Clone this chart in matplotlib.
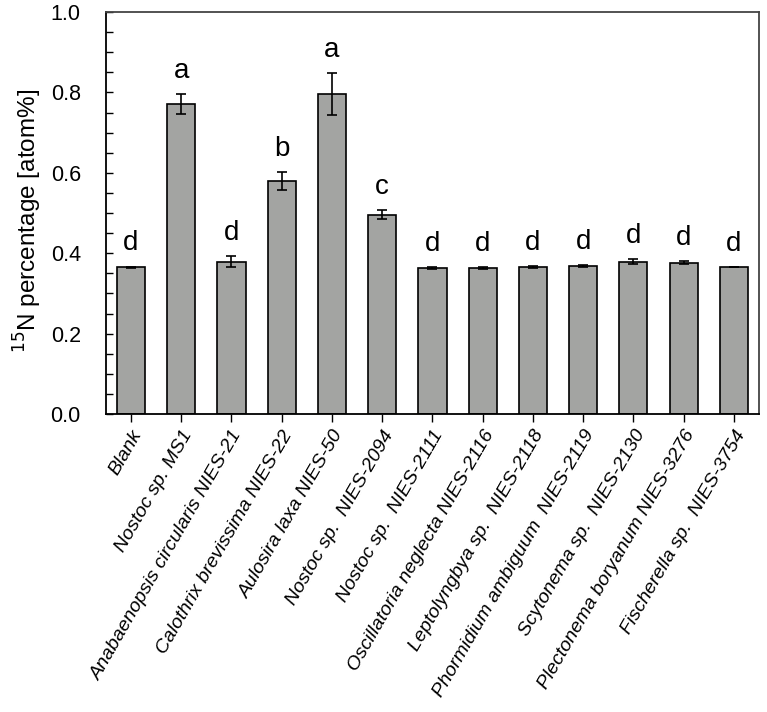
import numpy as np
import matplotlib.pyplot as plt
from matplotlib.ticker import MultipleLocator

plt.rcParams['font.family'] = ['Liberation Sans', 'DejaVu Sans']

strains = ["Blank", "Nostoc sp. MS1", "Anabaenopsis circularis NIES-21",
           "Calothrix brevissima NIES-22", "Aulosira laxa NIES-50",
           "Nostoc sp.  NIES-2094", "Nostoc sp.  NIES-2111",
           "Oscillatoria neglecta NIES-2116", "Leptolyngbya sp.  NIES-2118",
           "Phormidium ambiguum  NIES-2119", "Scytonema sp.  NIES-2130",
           "Plectonema boryanum NIES-3276", "Fischerella sp.  NIES-3754"]
means = [0.365, 0.772, 0.379, 0.580, 0.796, 0.496, 0.364, 0.363, 0.366,
         0.368, 0.379, 0.377, 0.366]
errs = [0.002, 0.025, 0.013, 0.022, 0.053, 0.012, 0.002, 0.002, 0.002,
        0.002, 0.006, 0.004, 0.0]
letters = ["d", "a", "d", "b", "a", "c", "d", "d", "d", "d", "d", "d", "d"]

fig = plt.figure(figsize=(7.67, 7.12), dpi=100)
ax = fig.add_axes([0.138, 0.4185, 0.8516, 0.5645])

x = np.arange(len(strains))
ax.bar(x, means, width=0.56, color="#a3a4a2", edgecolor="black", linewidth=1.2,
       yerr=errs, capsize=3.5, error_kw=dict(elinewidth=1.2, capthick=1.2, ecolor="black"))

for xi, m, e, l in zip(x, means, errs, letters):
    ax.text(xi, m + e + 0.04, l, ha="center", va="baseline", fontsize=20)

ax.set_xlim(-0.5, len(strains) - 0.5)
ax.set_ylim(0, 1.0)
ax.yaxis.set_major_locator(MultipleLocator(0.2))
ax.yaxis.set_minor_locator(MultipleLocator(0.05))
ax.yaxis.set_major_formatter(plt.FormatStrFormatter('%.1f'))
ax.tick_params(axis="y", which="both", direction="in", length=5, width=1.0, labelsize=15.5, pad=18)
ax.tick_params(axis="x", direction="out", length=6, width=1.0)
ax.set_xticks(x)
ax.set_xticklabels(strains, rotation=60, ha="right", rotation_mode="anchor",
                   fontsize=14, style="italic")
ax.set_ylabel("$^{15}$N percentage [atom%]", fontsize=17.5, labelpad=3)
ax.yaxis.set_label_coords(-0.095, 0.48)

for s in ["left", "bottom"]:
    ax.spines[s].set_linewidth(1.3)
for s in ["top", "right"]:
    ax.spines[s].set_color("#444444")
    ax.spines[s].set_linewidth(1.3)

plt.savefig("out.png", dpi=100)
